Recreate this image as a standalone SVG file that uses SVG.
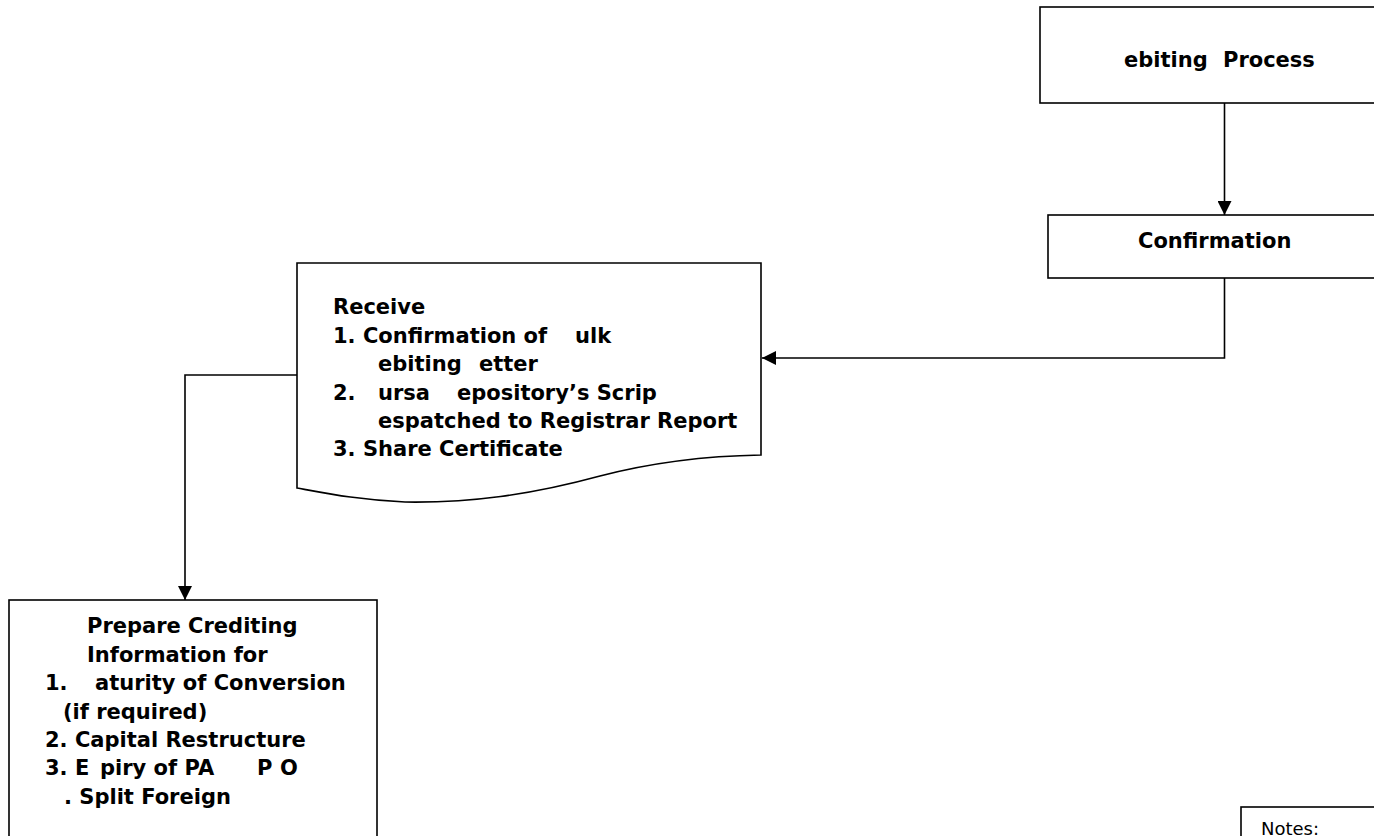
<svg xmlns="http://www.w3.org/2000/svg" width="1374" height="836" viewBox="0 0 1374 836">
  <style>
    .box { fill: #ffffff; stroke: #000000; stroke-width: 1.6; }
    .conn { fill: none; stroke: #000000; stroke-width: 1.6; }
    .lbl { font-family: "DejaVu Sans", Verdana, sans-serif; font-weight: bold; font-size: 21px; fill: #000000; }
    .note { font-family: "DejaVu Sans", Verdana, sans-serif; font-size: 18px; fill: #000000; }
  </style>
  <defs>
    <marker id="arrow" markerUnits="userSpaceOnUse" markerWidth="14" markerHeight="14" viewBox="0 0 14 14" refX="14" refY="7" orient="auto">
      <path d="M0,0 L14,7 L0,14 Z" fill="#000000"/>
    </marker>
  </defs>
  <rect width="1374" height="836" fill="#ffffff"/>

  <!-- connectors -->
  <g id="connectors">
    <line class="conn" x1="1224.5" y1="103" x2="1224.5" y2="215" marker-end="url(#arrow)"/>
    <polyline class="conn" points="1224.5,278 1224.5,358 762,358" marker-end="url(#arrow)"/>
    <polyline class="conn" points="297,375 185,375 185,600" marker-end="url(#arrow)"/>
  </g>

  <!-- debiting process -->
  <g id="debiting-process">
    <rect class="box" x="1040" y="7" width="360" height="96"/>
    <text class="lbl" y="67"><tspan x="1124">ebiting</tspan><tspan x="1223">Process</tspan></text>
  </g>

  <!-- confirmation -->
  <g id="confirmation">
    <rect class="box" x="1048" y="215" width="360" height="63"/>
    <text class="lbl" x="1138" y="248">Confirmation</text>
  </g>

  <!-- received documents -->
  <g id="receive">
    <path class="box" d="M297,263 H761 V455 C700,456 650,463 600,476 C530,495 470,503 405,502 C360,500 330,494 297,488 Z"/>
    <text class="lbl">
      <tspan x="333" y="314">Receive</tspan>
      <tspan x="333" y="342.5">1. Confirmation of</tspan><tspan x="575" y="342.5">ulk</tspan>
      <tspan x="378" y="371">ebiting</tspan><tspan x="479" y="371">etter</tspan>
      <tspan x="333" y="399.5">2.</tspan><tspan x="378" y="399.5">ursa</tspan><tspan x="457" y="399.5">epository’s Scrip</tspan>
      <tspan x="378" y="428">espatched to Registrar Report</tspan>
      <tspan x="333" y="456">3. Share Certificate</tspan>
    </text>
  </g>

  <!-- prepare crediting information -->
  <g id="prepare-crediting">
    <rect class="box" x="9" y="600" width="368" height="260"/>
    <text class="lbl">
      <tspan x="87" y="633">Prepare Crediting</tspan>
      <tspan x="87" y="662">Information for</tspan>
      <tspan x="45" y="690">1.</tspan><tspan x="95" y="690">aturity of Conversion</tspan>
      <tspan x="63" y="719">(if required)</tspan>
      <tspan x="45" y="747">2. Capital Restructure</tspan>
      <tspan x="45" y="775">3. E</tspan><tspan x="100" y="775">piry of PA</tspan><tspan x="257" y="775">P</tspan><tspan x="280" y="775">O</tspan>
      <tspan x="64" y="804">. Split Foreign</tspan>
    </text>
  </g>

  <!-- notes -->
  <g id="notes">
    <rect class="box" x="1241" y="807" width="160" height="60"/>
    <text class="note" x="1261" y="835">Notes:</text>
  </g>
</svg>
